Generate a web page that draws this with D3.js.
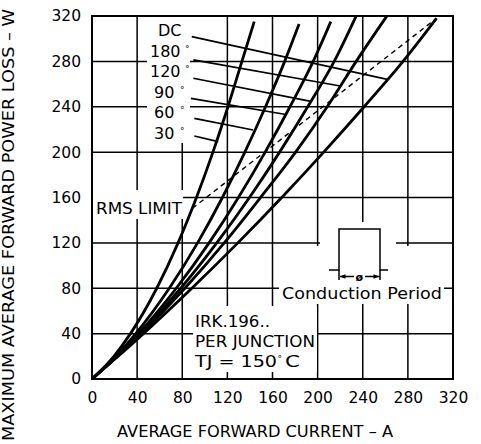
<!DOCTYPE html>
<html><head><meta charset="utf-8">
<script src="https://cdn.jsdelivr.net/npm/d3@7"></script>
<style>
html,body{margin:0;padding:0;background:#fff;}
svg{display:block;font-family:"DejaVu Sans",sans-serif;}
</style>
</head><body>
<svg id="chart" width="481" height="444"></svg>
<script>
// ---- data ----
const xTickValues = [0, 40, 80, 120, 160, 200, 240, 280, 320];
const yTickValues = [0, 40, 80, 120, 160, 200, 240, 280, 320];
const seriesNames = ["30", "60", "90", "120", "180", "DC"];
// power levels (W) at which currents were read; last point of each series is its top end
const powerLevels = [0, 20, 40, 80, 120, 160, 200, 240, 280];
const topPower = [315, 313, 315, 319.5, 319.5, 318];
const current30 = [0, 19.4, 34.1, 57.4, 76.3, 92.6, 107.2, 120.5, 132.9, 143.8];
const current60 = [0, 21.1, 38.8, 68.5, 93.6, 115.6, 135.5, 153.8, 170.8, 183.6];
const current90 = [0, 21.9, 41.2, 74.7, 103.8, 129.8, 153.5, 175.5, 196.1, 211.7];
const current120 = [0, 22.3, 42.5, 78.7, 110.6, 139.6, 166.3, 191.2, 214.7, 233.9];
const current180 = [0, 22.6, 43.7, 82.3, 117.2, 149.4, 180.5, 208.5, 234.2, 261.1];
const currentDC = [0, 23.1, 45.6, 88.5, 129.3, 168.2, 205.4, 241.2, 275.7, 305.4];
const rmsLimitCurrent = [89, 305.4];
const rmsLimitPower = [150.5, 318];
const labelNames = ["DC", "180", "120", "90", "60", "30"];
const leaderStartCurrent = [88.4, 89.8, 89.8, 87.7, 90.7, 90.7];
const leaderStartPower = [301.8, 281.3, 265.1, 247.4, 229.8, 214.2];
const leaderEndCurrent = [261.8, 220.1, 194.0, 171.9, 142.9, 111.9];
const leaderEndPower = [264.2, 258.3, 244.8, 233.2, 219.5, 209.2];

// ---- drawing ----
const svg = d3.select("#chart");
const x = d3.scaleLinear().domain([0, 320]).range([92, 453]);
const y = d3.scaleLinear().domain([0, 320]).range([379, 16]);
svg.append("rect").attr("width", 481).attr("height", 444).attr("fill", "#fff");

// grid
const g = svg.append("g").attr("stroke", "#000").attr("stroke-width", 1.5);
g.selectAll(".vg").data(xTickValues.slice(1, -1)).join("line")
  .attr("x1", d => x(d)).attr("x2", d => x(d)).attr("y1", y(0)).attr("y2", y(320));
g.selectAll(".hg").data(yTickValues.slice(1, -1)).join("line")
  .attr("y1", d => y(d)).attr("y2", d => y(d)).attr("x1", x(0)).attr("x2", x(320));

// white label backgrounds masking the grid
const masks = [
  [147, 17, 43, 126],   // legend labels
  [93, 190, 90, 29],    // RMS LIMIT
  [193, 306, 124, 66],  // IRK text
  [320, 222, 76, 82],   // inset
  [316, 246, 96, 58],
  [279, 283, 165, 21]   // Conduction Period
];
svg.append("g").selectAll("rect").data(masks).join("rect")
  .attr("x", d => d[0]).attr("y", d => d[1]).attr("width", d => d[2]).attr("height", d => d[3])
  .attr("fill", "#fff");

// frame
svg.append("rect").attr("x", x(0)).attr("y", y(320)).attr("width", x(320) - x(0)).attr("height", y(0) - y(320))
  .attr("fill", "none").attr("stroke", "#000").attr("stroke-width", 2);

// axes (labels only)
const yAxis = svg.append("g").attr("transform", `translate(${x(0)},0)`)
  .call(d3.axisLeft(y).tickValues(yTickValues).tickSize(0).tickPadding(11).tickFormat(d3.format("d")));
const xAxis = svg.append("g").attr("transform", `translate(0,${y(0)})`)
  .call(d3.axisBottom(x).tickValues(xTickValues).tickSize(0).tickPadding(13).tickFormat(d3.format("d")));
[yAxis, xAxis].forEach(a => {
  a.select(".domain").remove();
  a.selectAll("text").attr("font-family", "DejaVu Sans").attr("font-size", 15.5).attr("fill", "#000");
});

// curves
const seriesCurrents = [current30, current60, current90, current120, current180, currentDC];
const line = d3.line().x(d => x(d[0])).y(d => y(d[1])).curve(d3.curveMonotoneX);
seriesCurrents.forEach((cur, i) => {
  const pw = powerLevels.concat([topPower[i]]);
  const pts = cur.map((c, j) => [c, pw[j]]);
  svg.append("path").datum(pts).attr("d", line)
    .attr("fill", "none").attr("stroke", "#000").attr("stroke-width", 2.8).attr("stroke-linejoin", "round");
});

// RMS limit
svg.append("path").datum(rmsLimitCurrent.map((c, i) => [c, rmsLimitPower[i]]))
  .attr("d", d3.line().x(d => x(d[0])).y(d => y(d[1])))
  .attr("fill", "none").attr("stroke", "#000").attr("stroke-width", 1.4).attr("stroke-dasharray", "5,4");

// leaders
svg.append("g").selectAll("line").data(labelNames).join("line")
  .attr("x1", (d, i) => x(leaderStartCurrent[i])).attr("y1", (d, i) => y(leaderStartPower[i]))
  .attr("x2", (d, i) => x(leaderEndCurrent[i])).attr("y2", (d, i) => y(leaderEndPower[i]))
  .attr("stroke", "#000").attr("stroke-width", 1.7);

// legend labels
const labelX = [158, 150, 150, 154, 154, 154];
const labelY = [36, 57, 77, 98.3, 118.3, 139];
const degX = [null, 185, 185, 180, 180, 180];
labelNames.forEach((n, i) => {
  const t = svg.append("text").attr("x", labelX[i]).attr("y", labelY[i])
    .attr("font-size", 16).attr("fill", "#000").text(n);
  if (degX[i]) {
    svg.append("text").attr("x", degX[i]).attr("y", labelY[i] - 5)
      .attr("font-size", 9).attr("fill", "#000").text("°");
  }
});

// annotations
function txt(s, tx, ty, len, size) {
  const t = svg.append("text").attr("x", tx).attr("y", ty).attr("font-size", size || 16).attr("fill", "#000").text(s);
  if (len) t.attr("textLength", len).attr("lengthAdjust", "spacingAndGlyphs");
  return t;
}
txt("RMS LIMIT", 96, 213.5, 86, 16.5);
txt("IRK.196..", 195, 326.7, 75, 16);
txt("PER JUNCTION", 195, 346.7, 120, 16.5);
txt("TJ = 150", 195, 366.7, 82, 16);
txt("°", 277.5, 361.5, null, 9);
txt("C", 285, 366.7, 15, 16);
txt("Conduction Period", 282, 298.5, 160, 16.5);

// inset pulse sketch
const ins = svg.append("g").attr("stroke", "#000").attr("fill", "none").attr("stroke-width", 1.5);
ins.append("path").attr("d", "M329,270 H339 V229 H380 V270 H388");
ins.append("path").attr("d", "M339,270 V280 M380,270 V280");
ins.append("path").attr("d", "M340,276.5 H380");
svg.append("path").attr("d", "M339.5,276.5 L345.5,274.3 L345.5,278.7 Z M379.5,276.5 L373.5,274.3 L373.5,278.7 Z").attr("fill", "#000");
svg.append("rect").attr("x", 354).attr("y", 271).attr("width", 11).attr("height", 11).attr("fill", "#fff");
txt("ø", 355.5, 281, null, 11).attr("font-weight", "bold");

// axis titles
svg.append("text").attr("x", 117).attr("y", 437).attr("font-size", 16).attr("fill", "#000")
  .attr("textLength", 276).attr("lengthAdjust", "spacingAndGlyphs")
  .text("AVERAGE FORWARD CURRENT \u2013 A");
svg.append("text").attr("transform", "translate(14,441) rotate(-90)").attr("font-size", 16).attr("fill", "#000")
  .attr("textLength", 432).attr("lengthAdjust", "spacingAndGlyphs")
  .text("MAXIMUM AVERAGE FORWARD POWER LOSS \u2013 W");
</script>
</body></html>
